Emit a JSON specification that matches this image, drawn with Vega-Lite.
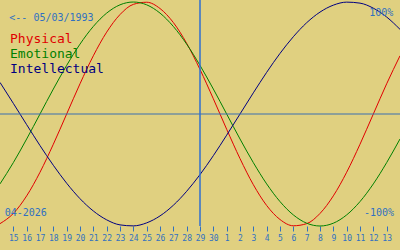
{
  "$schema": "https://vega.github.io/schema/vega-lite/v6.json",
  "width": 400,
  "height": 226,
  "padding": {"left": 0, "top": 0, "right": 0, "bottom": 24},
  "autosize": {"type": "none"},
  "background": "#E0D080",
  "config": {"view": {"stroke": null}, "font": "DejaVu Sans Mono"},
  "datasets": {
    "cycles": [
      {"day": 0, "cycle": "Physical", "value": -0.979},
      {"day": 1, "cycle": "Physical", "value": -0.888},
      {"day": 2, "cycle": "Physical", "value": -0.731},
      {"day": 3, "cycle": "Physical", "value": -0.52},
      {"day": 4, "cycle": "Physical", "value": -0.27},
      {"day": 5, "cycle": "Physical", "value": 0},
      {"day": 6, "cycle": "Physical", "value": 0.27},
      {"day": 7, "cycle": "Physical", "value": 0.52},
      {"day": 8, "cycle": "Physical", "value": 0.731},
      {"day": 9, "cycle": "Physical", "value": 0.888},
      {"day": 10, "cycle": "Physical", "value": 0.979},
      {"day": 11, "cycle": "Physical", "value": 0.998},
      {"day": 12, "cycle": "Physical", "value": 0.942},
      {"day": 13, "cycle": "Physical", "value": 0.817},
      {"day": 14, "cycle": "Physical", "value": 0.631},
      {"day": 15, "cycle": "Physical", "value": 0.398},
      {"day": 16, "cycle": "Physical", "value": 0.136},
      {"day": 17, "cycle": "Physical", "value": -0.136},
      {"day": 18, "cycle": "Physical", "value": -0.398},
      {"day": 19, "cycle": "Physical", "value": -0.631},
      {"day": 20, "cycle": "Physical", "value": -0.817},
      {"day": 21, "cycle": "Physical", "value": -0.942},
      {"day": 22, "cycle": "Physical", "value": -0.998},
      {"day": 23, "cycle": "Physical", "value": -0.979},
      {"day": 24, "cycle": "Physical", "value": -0.888},
      {"day": 25, "cycle": "Physical", "value": -0.731},
      {"day": 26, "cycle": "Physical", "value": -0.52},
      {"day": 27, "cycle": "Physical", "value": -0.27},
      {"day": 28, "cycle": "Physical", "value": 0},
      {"day": 29, "cycle": "Physical", "value": 0.27},
      {"day": 30, "cycle": "Physical", "value": 0.52},
      {"day": 0, "cycle": "Emotional", "value": -0.624},
      {"day": 1, "cycle": "Emotional", "value": -0.434},
      {"day": 2, "cycle": "Emotional", "value": -0.223},
      {"day": 3, "cycle": "Emotional", "value": 0},
      {"day": 4, "cycle": "Emotional", "value": 0.223},
      {"day": 5, "cycle": "Emotional", "value": 0.434},
      {"day": 6, "cycle": "Emotional", "value": 0.624},
      {"day": 7, "cycle": "Emotional", "value": 0.782},
      {"day": 8, "cycle": "Emotional", "value": 0.901},
      {"day": 9, "cycle": "Emotional", "value": 0.975},
      {"day": 10, "cycle": "Emotional", "value": 1},
      {"day": 11, "cycle": "Emotional", "value": 0.975},
      {"day": 12, "cycle": "Emotional", "value": 0.901},
      {"day": 13, "cycle": "Emotional", "value": 0.782},
      {"day": 14, "cycle": "Emotional", "value": 0.624},
      {"day": 15, "cycle": "Emotional", "value": 0.434},
      {"day": 16, "cycle": "Emotional", "value": 0.223},
      {"day": 17, "cycle": "Emotional", "value": 0},
      {"day": 18, "cycle": "Emotional", "value": -0.223},
      {"day": 19, "cycle": "Emotional", "value": -0.434},
      {"day": 20, "cycle": "Emotional", "value": -0.624},
      {"day": 21, "cycle": "Emotional", "value": -0.782},
      {"day": 22, "cycle": "Emotional", "value": -0.901},
      {"day": 23, "cycle": "Emotional", "value": -0.975},
      {"day": 24, "cycle": "Emotional", "value": -1},
      {"day": 25, "cycle": "Emotional", "value": -0.975},
      {"day": 26, "cycle": "Emotional", "value": -0.901},
      {"day": 27, "cycle": "Emotional", "value": -0.782},
      {"day": 28, "cycle": "Emotional", "value": -0.624},
      {"day": 29, "cycle": "Emotional", "value": -0.434},
      {"day": 30, "cycle": "Emotional", "value": -0.223},
      {"day": 0, "cycle": "Intellectual", "value": 0.282},
      {"day": 1, "cycle": "Intellectual", "value": 0.095},
      {"day": 2, "cycle": "Intellectual", "value": -0.095},
      {"day": 3, "cycle": "Intellectual", "value": -0.282},
      {"day": 4, "cycle": "Intellectual", "value": -0.458},
      {"day": 5, "cycle": "Intellectual", "value": -0.618},
      {"day": 6, "cycle": "Intellectual", "value": -0.756},
      {"day": 7, "cycle": "Intellectual", "value": -0.866},
      {"day": 8, "cycle": "Intellectual", "value": -0.945},
      {"day": 9, "cycle": "Intellectual", "value": -0.99},
      {"day": 10, "cycle": "Intellectual", "value": -0.999},
      {"day": 11, "cycle": "Intellectual", "value": -0.972},
      {"day": 12, "cycle": "Intellectual", "value": -0.91},
      {"day": 13, "cycle": "Intellectual", "value": -0.815},
      {"day": 14, "cycle": "Intellectual", "value": -0.69},
      {"day": 15, "cycle": "Intellectual", "value": -0.541},
      {"day": 16, "cycle": "Intellectual", "value": -0.372},
      {"day": 17, "cycle": "Intellectual", "value": -0.189},
      {"day": 18, "cycle": "Intellectual", "value": 0},
      {"day": 19, "cycle": "Intellectual", "value": 0.189},
      {"day": 20, "cycle": "Intellectual", "value": 0.372},
      {"day": 21, "cycle": "Intellectual", "value": 0.541},
      {"day": 22, "cycle": "Intellectual", "value": 0.69},
      {"day": 23, "cycle": "Intellectual", "value": 0.815},
      {"day": 24, "cycle": "Intellectual", "value": 0.91},
      {"day": 25, "cycle": "Intellectual", "value": 0.972},
      {"day": 26, "cycle": "Intellectual", "value": 0.999},
      {"day": 27, "cycle": "Intellectual", "value": 0.99},
      {"day": 28, "cycle": "Intellectual", "value": 0.945},
      {"day": 29, "cycle": "Intellectual", "value": 0.866},
      {"day": 30, "cycle": "Intellectual", "value": 0.756}
    ]
  },
  "layer": [
    {
      "data": {"name": "cycles"},
      "mark": {"type": "line", "interpolate": "monotone", "strokeWidth": 1},
      "encoding": {
        "x": {
          "field": "day", "type": "quantitative",
          "scale": {"domain": [0, 30], "nice": false, "zero": false},
          "axis": {
            "values": [1,2,3,4,5,6,7,8,9,10,11,12,13,14,15,16,17,18,19,20,21,22,23,24,25,26,27,28,29],
            "tickCount": 40,
            "labelExpr": "datum.value <= 16 ? datum.value + 14 : datum.value - 16",
            "domain": false, "grid": false, "ticks": true, "tickSize": 5,
            "tickColor": "#3070C0", "labelColor": "#3070C0",
            "labelFont": "DejaVu Sans Mono", "labelFontSize": 8, "labelPadding": 3,
            "labelOverlap": false, "labelFlush": false, "title": null
          }
        },
        "y": {"field": "value", "type": "quantitative", "scale": {"domain": [-1, 1.018], "nice": false, "zero": false}, "axis": null},
        "color": {
          "field": "cycle", "type": "nominal",
          "scale": {"domain": ["Physical", "Emotional", "Intellectual"], "range": ["#E00000", "#008000", "#000080"]},
          "legend": null
        }
      }
    },
    {
      "data": {"values": [{"value": 0}]},
      "mark": {"type": "rule", "color": "#3A6EB0", "strokeWidth": 1},
      "encoding": {
        "y": {"field": "value", "type": "quantitative", "axis": null}
      }
    },
    {
      "data": {"values": [{"day": 15}]},
      "mark": {"type": "rule", "color": "#2F6FD0", "strokeWidth": 1.5},
      "encoding": {
        "x": {"field": "day", "type": "quantitative"}
      }
    },
    {
      "data": {"values": [{}]},
      "mark": {"type": "text", "text": "<-- 05/03/1993", "align": "left", "baseline": "alphabetic", "fontSize": 10, "color": "#3070C0", "font": "DejaVu Sans Mono"},
      "encoding": {"x": {"datum": 0.7, "type": "quantitative"}, "y": {"datum": 0.833, "type": "quantitative", "axis": null}}
    },
    {
      "data": {"values": [{}]},
      "mark": {"type": "text", "text": "Physical", "align": "left", "baseline": "alphabetic", "fontSize": 13, "color": "#E00000", "font": "DejaVu Sans Mono"},
      "encoding": {"x": {"datum": 0.75, "type": "quantitative"}, "y": {"datum": 0.634, "type": "quantitative", "axis": null}}
    },
    {
      "data": {"values": [{}]},
      "mark": {"type": "text", "text": "Emotional", "align": "left", "baseline": "alphabetic", "fontSize": 13, "color": "#008000", "font": "DejaVu Sans Mono"},
      "encoding": {"x": {"datum": 0.75, "type": "quantitative"}, "y": {"datum": 0.5, "type": "quantitative", "axis": null}}
    },
    {
      "data": {"values": [{}]},
      "mark": {"type": "text", "text": "Intellectual", "align": "left", "baseline": "alphabetic", "fontSize": 13, "color": "#000080", "font": "DejaVu Sans Mono"},
      "encoding": {"x": {"datum": 0.75, "type": "quantitative"}, "y": {"datum": 0.366, "type": "quantitative", "axis": null}}
    },
    {
      "data": {"values": [{}]},
      "mark": {"type": "text", "text": "100%", "align": "right", "baseline": "alphabetic", "fontSize": 10, "color": "#3070C0", "font": "DejaVu Sans Mono"},
      "encoding": {"x": {"datum": 29.5, "type": "quantitative"}, "y": {"datum": 0.875, "type": "quantitative", "axis": null}}
    },
    {
      "data": {"values": [{}]},
      "mark": {"type": "text", "text": "-100%", "align": "right", "baseline": "alphabetic", "fontSize": 10, "color": "#3070C0", "font": "DejaVu Sans Mono"},
      "encoding": {"x": {"datum": 29.55, "type": "quantitative"}, "y": {"datum": -0.911, "type": "quantitative", "axis": null}}
    },
    {
      "data": {"values": [{}]},
      "mark": {"type": "text", "text": "04-2026", "align": "left", "baseline": "alphabetic", "fontSize": 10, "color": "#3070C0", "font": "DejaVu Sans Mono"},
      "encoding": {"x": {"datum": 0.35, "type": "quantitative"}, "y": {"datum": -0.911, "type": "quantitative", "axis": null}}
    }
  ]
}
